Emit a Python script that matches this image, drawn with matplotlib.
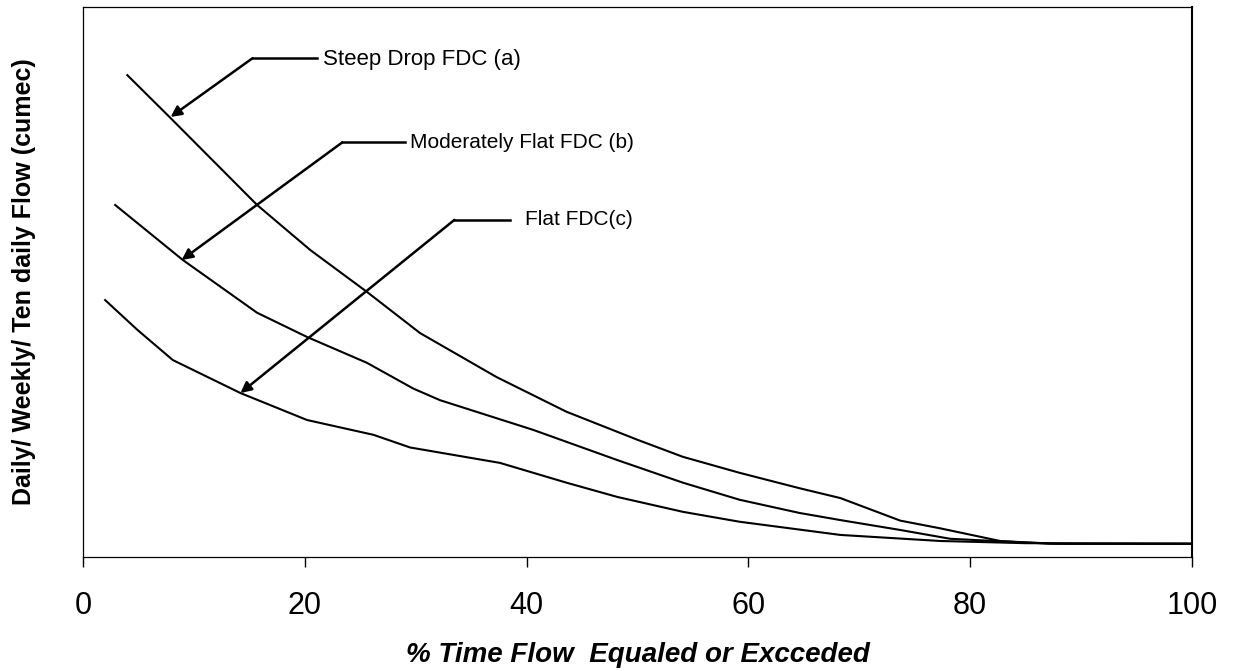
import matplotlib.pyplot as plt

plt.rcParams['font.family'] = ['Liberation Sans', 'DejaVu Sans']

# % time flow equaled or exceeded vs flow (arbitrary units, no y scale shown)
steep_x = [4.0, 7.8, 11.8, 15.7, 20.5, 25.6, 30.4, 37.3, 43.6, 50.0, 54.1, 59.2,
           64.6, 68.3, 73.7, 77.3, 82.7, 87.2, 100]
steep_y = [87.6, 80.0, 71.9, 64.0, 55.8, 48.2, 40.7, 32.7, 26.4, 21.3, 18.2, 15.3,
           12.5, 10.7, 6.6, 5.2, 2.9, 2.4, 2.4]

moderate_x = [2.9, 9.0, 15.7, 20.2, 25.6, 29.8, 32.2, 40.6, 48.2, 54.1, 59.2, 64.6,
              68.3, 73.7, 78.2, 84.2, 88.0, 100]
moderate_y = [64.0, 54.0, 44.4, 40.0, 35.3, 30.6, 28.5, 23.1, 17.6, 13.5, 10.4, 8.0,
              6.7, 4.9, 3.3, 2.7, 2.4, 2.4]

flat_x = [2.0, 4.9, 8.1, 14.2, 20.2, 26.2, 29.5, 37.6, 43.6, 48.2, 54.1, 59.2,
          68.3, 77.3, 85.0, 100]
flat_y = [46.7, 41.3, 35.8, 29.8, 24.9, 22.2, 19.9, 17.1, 13.5, 10.9, 8.2, 6.4,
          4.0, 2.9, 2.5, 2.4]

# annotation: label, text start, leader line end, elbow, arrow tip
labels = ['Steep Drop FDC (a)', 'Moderately Flat FDC (b)', 'Flat FDC(c)']
label_sizes = [16, 15, 15]
text_pos = [(21.6, 90.4), (29.5, 75.4), (39.9, 61.3)]
leader_end = [(21.1, 90.7), (29.0, 75.4), (38.5, 61.3)]
elbows = [(15.3, 90.7), (23.4, 75.4), (33.5, 61.3)]
tips = [(7.9, 80.0), (8.9, 54.0), (14.2, 29.8)]

fig = plt.figure(figsize=(12.33, 6.71), dpi=100)
ax = fig.add_axes([0.0673, 0.170, 0.8994, 0.8196])

for xs, ys in [(steep_x, steep_y), (moderate_x, moderate_y), (flat_x, flat_y)]:
    ax.plot(xs, ys, color='black', lw=1.5, solid_joinstyle='round')

for lab, fs, tp, le, el, tip in zip(labels, label_sizes, text_pos, leader_end, elbows, tips):
    ax.plot([le[0], el[0]], [le[1], el[1]], color='black', lw=1.8)
    ax.annotate('', xy=tip, xytext=el,
                arrowprops=dict(arrowstyle='-|>', color='black', lw=1.8,
                                mutation_scale=16, shrinkA=0, shrinkB=0))
    ax.text(tp[0], tp[1], lab, fontsize=fs, va='center', ha='left')

ax.set_xlim(0, 100)
ax.set_ylim(0, 100)
ax.set_xticks([0, 20, 40, 60, 80, 100])
ax.set_yticks([])
ax.tick_params(axis='x', direction='out', length=7.2, width=1, labelsize=22, pad=17)
for s in ax.spines.values():
    s.set_linewidth(0.9)
ax.spines['right'].set_linewidth(1.5)

fig.text(0.0195, 0.58, 'Daily/ Weekly/ Ten daily Flow (cumec)', rotation=90,
         fontsize=18, fontweight='bold', ha='center', va='center')
fig.text(0.517, 0.0238, '% Time Flow  Equaled or Excceded', fontsize=20,
         fontweight='bold', fontstyle='italic', ha='center', va='center')

fig.savefig('out.png', dpi=100)
